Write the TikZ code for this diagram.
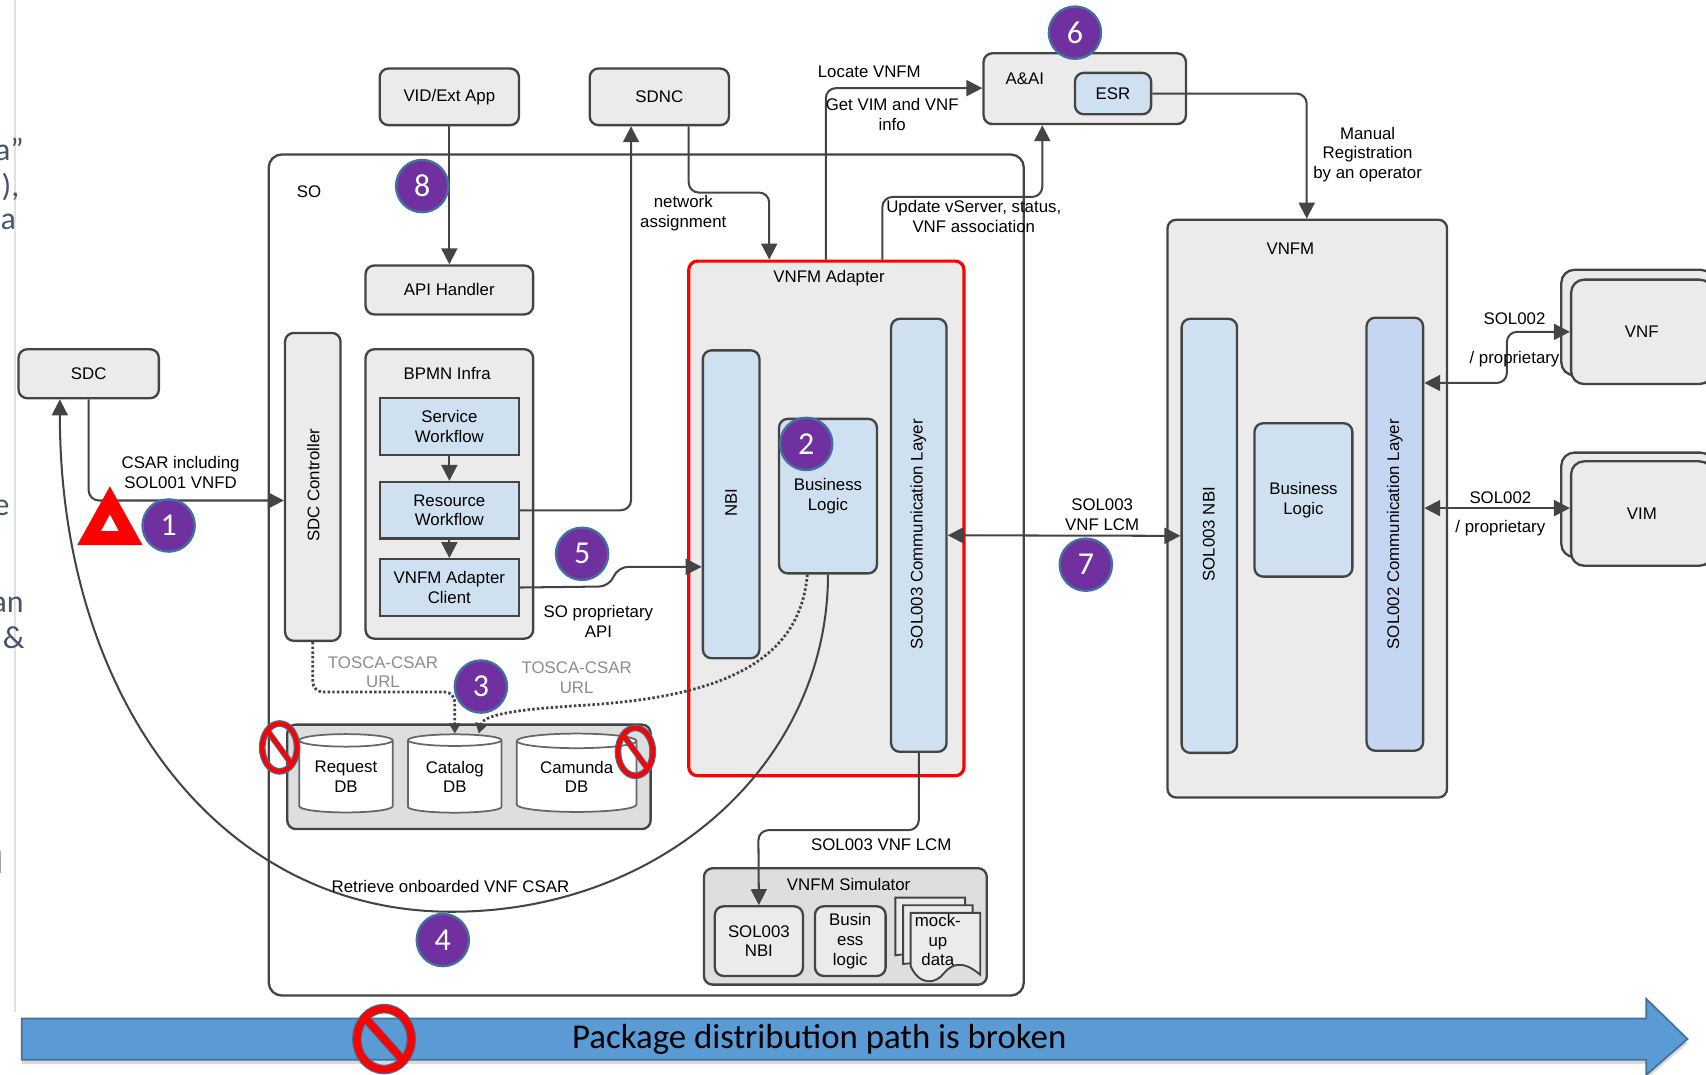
\documentclass[tikz,border=0pt]{standalone}
\usepackage{fontspec}
\usepackage{tikz}
\usepackage{xcolor}
\usetikzlibrary{arrows.meta,shapes.geometric,shadows,calc}
\setmainfont{Liberation Sans}
\newfontfamily\calibrifont{Carlito}
\definecolor{linec}{RGB}{68,68,68}
\definecolor{boxgrey}{RGB}{235,235,235}
\definecolor{dbgrey}{RGB}{222,222,222}
\definecolor{layerblue}{RGB}{207,224,240}
\definecolor{layerblue2}{RGB}{197,214,243}
\definecolor{stepnum}{RGB}{112,48,160}
\definecolor{stepring}{RGB}{65,113,156}
\definecolor{bararrow}{RGB}{91,155,213}
\definecolor{sidetext}{RGB}{68,84,106}
\tikzset{
  boxsize/.style 2 args={minimum width=#1*0.75pt,minimum height=#2*0.75pt},
  panel/.style={draw=linec,line width=1.6pt,rounded corners=6pt,fill=boxgrey,inner sep=0pt,align=center,font=\labelfont},
  layer/.style={panel,fill=layerblue},
  stepbox/.style={panel,fill=layerblue,rounded corners=0pt},
  lbl/.style={inner sep=0pt,align=center,font=\labelfont},
  greylbl/.style={lbl,text=black!45},
  flow/.style={draw=linec,line width=1.4pt,rounded corners=7pt,-{Triangle[length=11pt,width=11pt]}},
  twoway/.style={flow,{Triangle[length=11pt,width=11pt]}-{Triangle[length=11pt,width=11pt]}},
  dotflow/.style={draw=linec,line width=1.9pt,rounded corners=7pt,dash pattern=on 1.7pt off 1.5pt,-{Triangle[length=7pt,width=8pt]}},
  plain/.style={draw=linec,line width=1.4pt,rounded corners=7pt},
  num/.style={circle,draw=stepring,line width=1.6pt,fill=stepnum,text=white,minimum size=36pt,inner sep=0pt,font=\calibrifont\fontsize{22}{24}\selectfont},
  db/.style={cylinder,shape border rotate=90,draw=black!60,line width=1.2pt,fill=white,aspect=0.2,inner sep=0pt,align=center,font=\labelfont},
  sidetxt/.style={inner sep=0pt,anchor=east,text=sidetext,font=\calibrifont\fontsize{22}{24}\selectfont},
}
\newcommand{\labelfont}{\fontsize{11.6}{13.5}\selectfont}
\newcommand{\forbidsign}[5]{% x y rx ry width
  \draw[stepring,line width=#5+1.6pt] (#1,#2) ellipse ({#3} and {#4});
  \draw[stepring,line width=#5+1.2pt] ($(#1,#2)+({-0.7*#3},{-0.7*#4})$) -- ($(#1,#2)+({0.7*#3},{0.7*#4})$);
  \draw[red,line width=#5] (#1,#2) ellipse ({#3} and {#4});
  \draw[red,line width=#5] ($(#1,#2)+({-0.7*#3},{-0.7*#4})$) -- ($(#1,#2)+({0.7*#3},{0.7*#4})$);
}
\begin{document}
\begin{tikzpicture}[x=0.75pt,y=0.75pt,yscale=-1,xscale=1]
\useasboundingbox (0,0) rectangle (1568,988);

% slide behind
\draw[black!12,line width=1.2pt] (14,0) -- (14,930);
\node[sidetxt] (sidea) at (22,137) {a”};
\node[sidetxt] (sideb) at (18,172) {),};
\node[sidetxt] (sidec) at (15,204) {a};
\node[sidetxt] (sided) at (9,467) {e};
\node[sidetxt] (sidee) at (22,556) {an};
\node[sidetxt] (sidef) at (23,586) {\&};
\node[sidetxt] (sideg) at (3,793) {l};

% bottom bar
\draw[draw=stepring,line width=1.2pt,fill=bararrow,drop shadow={shadow xshift=0pt,shadow yshift=-3pt,opacity=0.3}] (20,936) -- (1513,936) -- (1513,918) -- (1551,955) -- (1513,988) -- (1513,974) -- (20,974) -- cycle;
\node[inner sep=0pt,font=\calibrifont\fontsize{24}{26}\selectfont] (barlabel) at (753,955) {Package distribution path is broken};

% SO
\node[panel,fill=white,boxsize={694}{773},rounded corners=9pt] (so) at (594,528.5) {};
\node[lbl] (sotitle) at (284,176) {SO};

% outside boxes
\node[panel,boxsize={129}{45}] (sdc) at (81.5,343.5) {SDC};
\node[panel,boxsize={128}{52}] (vidapp) at (413,89) {VID/Ext App};
\node[panel,boxsize={128}{52}] (sdnc) at (606,89) {SDNC};
\node[panel,boxsize={186}{65}] (aai) at (997,81.5) {};
\node[lbl] (aaititle) at (942,72) {A\&AI};
\node[layer,boxsize={70}{38}] (esr) at (1023,86) {ESR};

% inside SO
\node[panel,boxsize={154}{45}] (apihandler) at (413,266.5) {API Handler};
\node[panel,boxsize={51}{283}] (sdcctl) at (287.5,447.5) {};
\node[lbl,rotate=90] (sdcctltext) at (288,446) {SDC Controller};
\node[panel,boxsize={154}{266}] (bpmn) at (413,454) {};
\node[lbl] (bpmntitle) at (411,343) {BPMN Infra};
\node[stepbox,boxsize={128}{52}] (service) at (413,392) {Service\\Workflow};
\node[stepbox,boxsize={128}{52}] (resource) at (413,469) {Resource\\Workflow};
\node[stepbox,boxsize={128}{52}] (client) at (413,540) {VNFM Adapter\\Client};

% VNFM adapter
\node[panel,draw=red,line width=2.2pt,boxsize={253}{473}] (adapter) at (759.5,476.5) {};
\node[lbl] (adaptertitle) at (762,256) {VNFM Adapter};
\node[layer,boxsize={52}{283}] (nbi) at (672,463.5) {};
\node[lbl,rotate=90] (nbitext) at (672,462) {NBI};
\node[layer,boxsize={90}{142}] (bizlogic) at (761,456) {Business\\Logic};
\node[layer,boxsize={51}{398}] (commlayer) at (844.5,492) {};
\node[lbl,rotate=90] (commtext) at (844,491) {SOL003 Communication Layer};

% DBs
\node[panel,fill=dbgrey,boxsize={334}{96}] (dbgroup) at (431,714) {};
\node[db,minimum width=86*0.75pt,minimum height=72*0.75pt] (requestdb) at (318,714) {Request\\DB};
\node[db,minimum width=86*0.75pt,minimum height=72*0.75pt] (catalogdb) at (418,714) {Catalog\\DB};
\node[db,minimum width=110*0.75pt,minimum height=72*0.75pt] (camundadb) at (530,714) {Camunda\\DB};

% simulator
\node[panel,fill=dbgrey,boxsize={260}{107}] (simulator) at (777,851.5) {};
\node[lbl] (simtitle) at (780,813) {VNFM Simulator};
\node[panel,boxsize={81}{64}] (simnbi) at (697.5,865) {SOL003\\NBI};
\node[panel,boxsize={65}{64}] (simlogic) at (781.5,865) {Busin\\ess\\logic};
\draw[draw=linec,line width=1.3pt,fill=boxgrey] (823,825) -- (887,825) -- (887,870) -- (823,878) -- cycle;
\draw[draw=linec,line width=1.3pt,fill=boxgrey] (830,832) -- (894,832) -- (894,880) -- (830,886) -- cycle;
\draw[draw=linec,line width=1.3pt,fill=boxgrey] (837,839) -- (901,839) -- (901,896) .. controls (885,882) and (875,886) .. (868,894) .. controls (860,905) and (845,906) .. (837,888) -- cycle;
\node[lbl] (mockup) at (862,864) {mock-\\up\\data};

% VNFM
\node[panel,boxsize={257}{531}] (vnfm) at (1201.5,467.5) {};
\node[lbl] (vnfmtitle) at (1186,229) {VNFM};
\node[layer,boxsize={51}{399}] (vnfmnbi) at (1111.5,492.5) {};
\node[lbl,rotate=90] (vnfmnbitext) at (1111,491) {SOL003 NBI};
\node[layer,boxsize={90}{141}] (vnfmlogic) at (1198,459.5) {Business\\Logic};
\node[layer,fill=layerblue2,boxsize={52}{398}] (vnfmcomm) at (1282,491) {};
\node[lbl,rotate=90] (vnfmcommtext) at (1282,491) {SOL002 Communication Layer};

% VNF, VIM
\node[panel,boxsize={140}{97},rounded corners=9pt] (vnfback) at (1505,296.5) {};
\node[panel,boxsize={130}{96},rounded corners=9pt] (vnf) at (1509,305) {VNF};
\node[panel,boxsize={140}{96},rounded corners=9pt] (vimback) at (1505,464) {};
\node[panel,boxsize={130}{96},rounded corners=9pt] (vim) at (1509,472) {VIM};

% connectors
\draw[flow] (sdc.south) |- (sdcctl.west |- 0,460);
\draw[flow] (vidapp) -- (apihandler);
\draw[flow] (service) -- (resource);
\draw[flow] (resource) -- (client);
\draw[flow] (resource.east) -| (580,0 |- sdnc.south);
\draw[flow] (606,0 |- sdnc.south) ++(27,0) |- (707,177) -- (707,0 |- adapter.north);
\draw[flow] (client.east) -- (560,539) -- (568,521) -- (nbi.west |- 0,521);
\draw[flow] (759,0 |- adapter.north) |- (aai.west |- 0,81);
\draw[flow] (811,0 |- adapter.north) |- (958,181) -- (958,0 |- aai.south);
\draw[flow] (esr.east) -| (1201,0 |- vnfm.north);
\draw[twoway] (commlayer.east) -- (vnfmnbi.west);
\draw[twoway] (vnfmcomm.east |- 0,352) -- (1385,352) -- (1385,305) -- (vnf.west |- 0,305);
\draw[twoway] (vnfmcomm.east |- 0,467) -- (vim.west |- 0,467);
\draw[flow] (commlayer.south) |- (697,763) -- (simnbi.north);
\draw[dotflow] (sdcctl.south) |- (418,636) -- (418,0 |- catalogdb.north);
\draw[dotflow,rounded corners=0pt] (742,0 |- bizlogic.south) .. controls (735,610) and (660,640) .. (540,648) .. controls (490,651) and (445,655) .. (440,0 |- catalogdb.north);
\draw[flow,rounded corners=0pt] (bizlogic.south) .. controls (761,700) and (610,838) .. (415,838) .. controls (200,838) and (55,640) .. (55,0 |- sdc.south);

% labels
\node[lbl] (csarlabel) at (166,434) {CSAR including\\SOL001 VNFD};
\node[lbl] (netlabel) at (628,196) {network\\assignment};
\node[lbl] (locatelabel) at (799,66) {Locate VNFM};
\node[lbl] (getlabel) at (820,105) {Get VIM and VNF\\info};
\node[lbl] (updatelabel) at (895,199) {Update vServer, status,\\VNF association};
\node[lbl] (manuallabel) at (1257,142) {Manual\\Registration\\by an operator};
\node[lbl] (solapi) at (550,571) {SO proprietary\\API};
\node[lbl] (lcmlabel) at (1013,473) {SOL003\\VNF LCM};
\node[lbl] (simlcm) at (810,776) {SOL003 VNF LCM};
\node[lbl] (retrieve) at (414,815) {Retrieve onboarded VNF CSAR};
\node[lbl] (sol2a) at (1392,293) {SOL002};
\node[lbl] (sol2b) at (1392,330) {/ proprietary};
\node[lbl] (sol2c) at (1379,457) {SOL002};
\node[lbl] (sol2d) at (1379,485) {/ proprietary};
\node[greylbl] (toscaa) at (352,618) {TOSCA-CSAR\\URL};
\node[greylbl] (toscab) at (530,623) {TOSCA-CSAR\\URL};

% marks
\fill[red] (101,447) -- (131,501) -- (71,501) -- cycle;
\fill[white] (101,473) -- (109,488) -- (93,488) -- cycle;
\forbidsign{257}{687}{16}{22}{3pt}
\forbidsign{584}{691}{16}{22}{3pt}
\forbidsign{353}{955}{25}{28}{5pt}

\node[num] (step1) at (155,483) {1};
\node[num] (step2) at (741,408) {2};
\node[num] (step3) at (442,631) {3};
\node[num] (step4) at (407,864) {4};
\node[num] (step5) at (535,509) {5};
\node[num] (step6) at (988,30) {6};
\node[num] (step7) at (998,519) {7};
\node[num] (step8) at (388,171) {8};
\end{tikzpicture}
\end{document}
